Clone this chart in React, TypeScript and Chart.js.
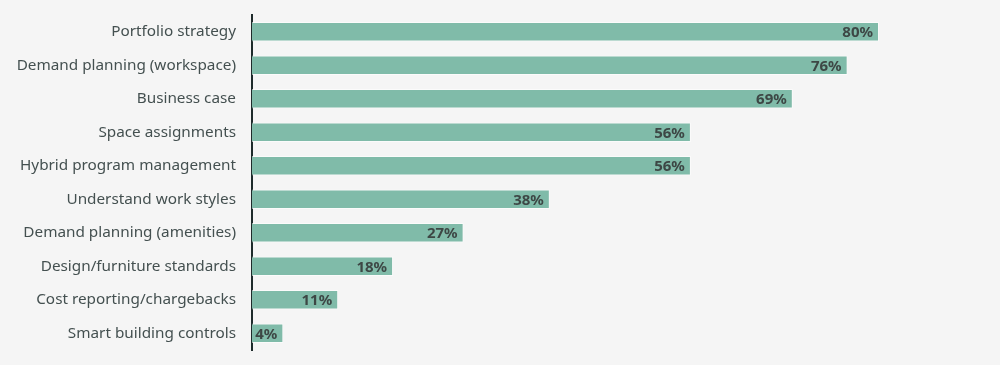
import React, { useEffect, useRef } from "react";
import { Chart, registerables } from "chart.js";

Chart.register(...registerables);

const categories = [
  "Portfolio strategy",
  "Demand planning (workspace)",
  "Business case",
  "Space assignments",
  "Hybrid program management",
  "Understand work styles",
  "Demand planning (amenities)",
  "Design/furniture standards",
  "Cost reporting/chargebacks",
  "Smart building controls",
];
const values = [80, 76, 69, 56, 56, 38, 27, 18, 11, 4];

const FONT = "'Noto Sans', 'Open Sans', sans-serif";

const valueLabels = {
  id: "valueLabels",
  afterDatasetsDraw(chart: any) {
    const ctx = chart.ctx;
    const meta = chart.getDatasetMeta(0);
    ctx.save();
    ctx.font = `bold 15px ${FONT}`;
    ctx.fillStyle = "#3d4745";
    ctx.textAlign = "right";
    ctx.textBaseline = "middle";
    meta.data.forEach((bar: any, i: number) => {
      ctx.fillText(values[i] + "%", bar.x - 6, bar.y + 1);
    });
    ctx.restore();
  },
};

export default function App() {
  const ref = useRef<HTMLCanvasElement>(null);
  useEffect(() => {
    if (!ref.current) return;
    const chart = new Chart(ref.current, {
      type: "bar",
      data: {
        labels: categories,
        datasets: [
          {
            data: values,
            backgroundColor: "#80bba9",
            borderColor: "rgba(255,255,255,0.6)",
            borderWidth: 1,
            barPercentage: 0.58,
            categoryPercentage: 1,
          },
        ],
      },
      options: {
        indexAxis: "y",
        animation: false,
        responsive: false,
        maintainAspectRatio: false,
        layout: { padding: { top: 15, bottom: 15, right: 121, left: 0 } },
        plugins: { legend: { display: false }, tooltip: { enabled: false } },
        scales: {
          x: { display: false, min: 0, max: 80 },
          y: {
            afterFit(scale: any) {
              scale.width = 252;
              scale.paddingTop = 0;
              scale.paddingBottom = 0;
            },
            grid: { display: false, drawTicks: false },
            border: { display: true, color: "#1e2b2b", width: 2 },
            ticks: {
              color: "#445050",
              padding: 16,
              font: { family: FONT, size: 15.3 },
            },
          },
        },
      },
      plugins: [valueLabels],
    });
    return () => chart.destroy();
  }, []);
  return (
    <div
      style={{
        position: "absolute",
        left: 0,
        top: 0,
        width: 1000,
        height: 365,
        background: "#f5f5f5",
      }}
    >
      <canvas ref={ref} width={1000} height={365} style={{ display: "block" }} />
    </div>
  );
}
